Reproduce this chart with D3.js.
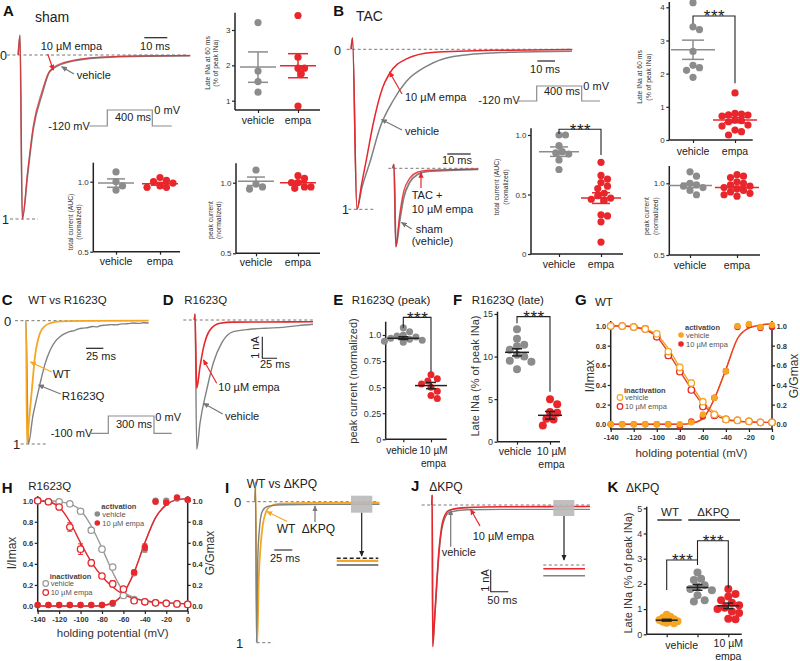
<!DOCTYPE html>
<html>
<head>
<meta charset="utf-8">
<script src="https://cdn.jsdelivr.net/npm/d3@7"></script>
<style>
  body { margin: 0; background: #fff; }
</style>
</head>
<body>
<script>
(function() {
  // ---------- dot plot data (A, B, E, F, K) ----------
  var abGroups = ['vehicle', 'empa'];
  var rqGroups = ['vehicle', '10 µM empa'];
  var kGroups = ['WT vehicle', 'ΔKPQ vehicle', 'ΔKPQ 10 µM empa'];

  var aLateTicks = [1, 2, 3];
  var aLateVehicle = [3.21, 1.84, 1.54, 1.24];
  var aLateEmpa = [3.41, 2.23, 1.92, 1.92, 1.76, 0.85];
  var aLateMean = [1.95, 1.99];
  var aLateSem = [0.43, 0.34];

  var normTicks = [0.5, 1.0];
  var aTotalVehicle = [1.07, 1.0, 0.97, 0.94];
  var aTotalEmpa = [1.03, 1.01, 1.0, 0.99, 0.97, 0.96, 0.96];
  var aTotalMean = [0.99, 0.985];
  var aTotalSem = [0.03, 0.01];

  var aPeakVehicle = [1.09, 0.99, 0.97, 0.955];
  var aPeakEmpa = [1.05, 1.03, 1.0, 1.0, 0.97, 0.97, 0.96];
  var aPeakMean = [1.01, 1.0];
  var aPeakSem = [0.03, 0.01];

  var bTotalTicks = [0, 0.5, 1.0];
  var bTotalVehicle = [1.0, 1.0, 0.91, 0.86, 0.85, 0.84, 0.79, 0.71];
  var bTotalEmpa = [0.77, 0.66, 0.63, 0.6, 0.57, 0.55, 0.51, 0.49, 0.47, 0.46, 0.45, 0.33, 0.32, 0.27, 0.1];
  var bTotalMean = [0.86, 0.47];
  var bTotalSem = [0.04, 0.045];

  var bLateTicks = [0, 1, 2, 3, 4];
  var bLateVehicle = [4.14, 3.41, 3.33, 2.67, 2.25, 2.18, 2.1, 1.89];
  var bLateEmpa = [1.42, 0.8, 0.78, 0.76, 0.75, 0.72, 0.6, 0.58, 0.55, 0.45, 0.42, 0.3, 0.25, 0.15];
  var bLateMean = [2.72, 0.6];
  var bLateSem = [0.29, 0.08];

  var bPeakVehicle = [1.08, 1.05, 1.0, 0.99, 0.98, 0.97, 0.95, 0.92];
  var bPeakEmpa = [1.06, 1.05, 1.04, 1.01, 1.0, 0.99, 0.98, 0.97, 0.96, 0.95, 0.94, 0.93, 0.92, 0.91];
  var bPeakMean = [0.985, 0.97];
  var bPeakSem = [0.015, 0.01];

  var eTicks = [0, 0.25, 0.5, 0.75, 1.0];
  var eTickLabels = ['0', '0.25', '0.5', '0.75', '1.0'];
  var eVehicle = [1.07, 1.03, 1.0, 0.99, 0.98, 0.97, 0.96, 0.95, 0.94, 0.93];
  var eEmpa = [0.62, 0.58, 0.56, 0.53, 0.5, 0.46, 0.42, 0.39];
  var eMean = [0.97, 0.515];
  var eSem = [0.013, 0.03];

  var fTicks = [0, 5, 10, 15];
  var fVehicle = [13.2, 12.1, 11.4, 11.2, 10.8, 10.2, 10.0, 9.5, 9.4, 8.5];
  var fEmpa = [5.0, 4.4, 3.5, 3.4, 2.7, 2.6, 1.9];
  var fMean = [10.5, 3.1];
  var fSem = [0.42, 0.45];

  var kTicks = [0, 1, 2, 3, 4, 5];
  var kWT = [0.78, 0.7, 0.66, 0.62, 0.6, 0.57, 0.55, 0.52, 0.5, 0.46, 0.44];
  var kDKPQ = [2.45, 2.2, 2.15, 1.95, 1.9, 1.8, 1.75, 1.55, 1.35, 1.3];
  var kDKPQEmpa = [1.8, 1.6, 1.5, 1.35, 1.25, 1.15, 1.05, 1.0, 0.9, 0.85, 0.62, 0.6];
  var kMean = [0.56, 1.86, 1.13];
  var kSem = [0.035, 0.11, 0.11];

  // ---------- current traces: [time (ms), current (normalized, or nA in D/J)] ----------
  var aTraceVehicle = [[-0.8, 0], [0, -0.12], [1.0, 1.0], [3.4, 0.72], [5.8, 0.45], [9.6, 0.24], [13, 0.1], [20, 0.047], [35, 0.016], [55, 0.007], [74, 0.005]];
  var aTraceEmpa = [[-0.8, 0], [0, -0.12], [1.0, 1.0], [3.4, 0.7], [5.8, 0.43], [9.6, 0.22], [13, 0.095], [20, 0.042], [35, 0.013], [55, 0.005], [74, 0.003]];
  var bTraceVehicle = [[-0.8, 0], [0, -0.07], [2.5, 1.0], [5.2, 0.87], [10, 0.7], [15.5, 0.49], [23, 0.32], [30.5, 0.2], [42, 0.105], [57, 0.045], [84, 0.02], [124, 0.012]];
  var bTraceEmpa = [[-0.8, 0], [0, -0.07], [2.5, 1.0], [5.2, 0.84], [8, 0.68], [11.6, 0.47], [17, 0.24], [21, 0.15], [30.5, 0.06], [45, 0.02], [80, 0.006], [124, 0.002]];
  var bInsetSham = [[-0.5, 0], [0, -0.05], [0.8, 1.0], [2.4, 0.68], [4.1, 0.38], [6.7, 0.18], [10, 0.08], [14.5, 0.04], [36, 0.012]];
  var bInsetEmpa = [[-0.5, 0], [0, -0.05], [0.8, 1.0], [2.4, 0.6], [4.1, 0.3], [6.7, 0.13], [10, 0.05], [14.5, 0.025], [36, 0.01]];
  var cTraceWT = [[-0.7, 0], [0, 0], [1.4, 1.0], [4.5, 0.8], [8.3, 0.57], [13, 0.29], [20.3, 0.1], [27, 0.045], [35, 0.02], [50, 0.006], [80, 0.002], [177, 0]];
  var cTraceR1623Q = [[-0.7, 0], [0, 0], [3.4, 1.0], [10, 0.77], [15, 0.64], [20.3, 0.51], [27.5, 0.35], [34.8, 0.24], [42, 0.17], [49, 0.13], [56, 0.105], [64, 0.087], [70, 0.08], [76, 0.066], [83, 0.06], [90, 0.055], [96, 0.047], [102, 0.05], [107, 0.041], [115, 0.036], [123, 0.032], [130, 0.034], [138, 0.026], [146, 0.025], [155, 0.019], [162, 0.022], [170, 0.017], [177, 0.019]];
  var dTraceVehicle = [[-1, 0], [0, -0.3], [2.9, 5.99], [8.5, 4.77], [19.8, 3.24], [31, 1.99], [45.3, 1.06], [65, 0.54], [93, 0.43], [120, 0.38], [149, 0.34], [175, 0.26], [200, 0.2]];
  var dTraceEmpa = [[-1, 0], [0, -0.25], [2.9, 3.16], [8.5, 2.16], [14.1, 1.31], [25.4, 0.46], [42.4, 0.15], [64.4, 0.1], [120, 0.09], [200, 0.08]];
  var iTraceDKPQ = [[-1, 0], [-0.3, -0.14], [1.1, 1.0], [2.8, 0.42], [5.6, 0.17], [8.3, 0.08], [12.5, 0.045], [19.4, 0.03], [40, 0.022], [100, 0.019], [172, 0.018]];
  var iTraceWT = [[-1, 0], [-0.3, -0.1], [2.2, 1.0], [4.2, 0.56], [6.9, 0.31], [9.7, 0.17], [13.9, 0.078], [19.4, 0.035], [33, 0.014], [80, 0.008], [172, 0.007]];
  var jTraceVehicle = [[-1.5, 0], [-0.3, -0.46], [1.2, 6.4], [5.7, 5.5], [12.5, 3.75], [19, 2.25], [26.7, 1.15], [36, 0.6], [50, 0.33], [98, 0.22], [200, 0.2], [448, 0.2]];
  var jTraceEmpa = [[-1.5, 0], [-0.3, -0.46], [1.2, 6.53], [5.7, 5.45], [12.5, 3.61], [19, 2.07], [26.7, 1.0], [36, 0.46], [50, 0.23], [98, 0.12], [200, 0.08], [448, 0.07]];
  var iLate = [0, 0.007, 0.018];   // zero, WT, ΔKPQ
  var jLate = [0, 0.07, 0.2];      // zero, empa, vehicle

  // ---------- voltage dependence (G, H) ----------
  var ivVolts = [-140, -130, -120, -110, -100, -90, -80, -70, -60, -50, -40, -30, -20, -10, 0];
  var ivTicksX = [-140, -120, -100, -80, -60, -40, -20, 0];
  var ivTicksY = [0, 0.2, 0.4, 0.6, 0.8, 1.0];

  var gInactVeh = [1.0, 1.0, 0.99, 0.97, 0.92, 0.74, 0.58, 0.42, 0.23, 0.1, 0.05, 0.04, 0.03, 0.02, 0.02];
  var gInactVehErr = [0, 0, 0, 0.01, 0.02, 0.03, 0.03, 0.03, 0.02, 0.01, 0, 0, 0, 0, 0];
  var gInactEmpa = [1.0, 1.0, 0.99, 0.97, 0.89, 0.7, 0.535, 0.35, 0.18, 0.09, 0.05, 0.04, 0.03, 0.02, 0.02];
  var gInactEmpaErr = [0, 0, 0, 0.01, 0.02, 0.03, 0.02, 0.02, 0.02, 0.01, 0, 0, 0, 0, 0];
  var gActVeh = [0, 0, 0, 0, 0, 0, 0, 0.02, 0.1, 0.27, 0.54, 1.0, 1.02, 0.99, 1.01];
  var gActEmpa = [0, 0, 0, 0, 0, 0, -0.02, 0.03, 0.08, 0.27, 0.54, 0.99, 1.01, 0.98, 0.99];
  var gActErr = [0, 0, 0, 0, 0, 0, 0, 0, 0.01, 0.02, 0.02, 0.01, 0, 0, 0];
  var gFitInactVeh = [1.0, 1.0, 0.99, 0.97, 0.91, 0.77, 0.58, 0.4, 0.23, 0.12, 0.06, 0.035, 0.025, 0.02, 0.02];
  var gFitInactEmpa = [1.0, 1.0, 0.99, 0.96, 0.89, 0.73, 0.54, 0.36, 0.2, 0.1, 0.05, 0.03, 0.025, 0.02, 0.02];
  var gFitAct = [0, 0, 0, 0, 0, 0, 0, 0.01, 0.06, 0.26, 0.56, 0.87, 0.98, 1.01, 1.02];

  var hInactVeh = [1.0, 0.99, 0.99, 0.97, 0.9, 0.72, 0.54, 0.37, 0.1, 0.06, 0.04, 0.03, 0.025, 0.02, 0.015];
  var hInactVehErr = [0, 0, 0, 0, 0.01, 0.02, 0.02, 0.02, 0.01, 0, 0, 0, 0, 0, 0];
  var hInactEmpa = [1.0, 0.99, 0.94, 0.75, 0.54, 0.41, 0.285, 0.21, 0.16, 0.05, 0.04, 0.03, 0.025, 0.02, 0.015];
  var hInactEmpaErr = [0, 0, 0.01, 0.04, 0.05, 0.03, 0.02, 0.03, 0.02, 0, 0, 0, 0, 0, 0];
  var hActVeh = [0.01, 0.01, 0.01, 0.01, 0.01, 0.01, 0.01, 0.02, 0.15, 0.31, 0.54, 1.0, 1.0, 1.02, 1.01];
  var hActEmpa = [0.01, 0.01, 0.01, 0.01, 0.01, 0.01, 0.01, 0.03, 0.16, 0.32, 0.56, 0.99, 0.98, 1.03, 1.01];
  var hActErr = [0, 0, 0, 0, 0, 0, 0, 0, 0.01, 0.02, 0.03, 0.01, 0.01, 0, 0];
  var hFitInactVeh = [1.0, 1.0, 0.99, 0.97, 0.91, 0.76, 0.55, 0.32, 0.14, 0.08, 0.05, 0.035, 0.03, 0.025, 0.02];
  var hFitInactEmpa = [1.0, 0.99, 0.94, 0.8, 0.6, 0.42, 0.28, 0.18, 0.11, 0.07, 0.05, 0.035, 0.03, 0.025, 0.02];
  var hFitAct = [0, 0, 0, 0, 0, 0, 0.005, 0.03, 0.12, 0.32, 0.6, 0.84, 0.96, 1.01, 1.02];

  // ---------- style ----------
  var FONT = '"Liberation Sans", Arial, Helvetica, sans-serif';
  var GRAY = '#8c8c8c', RED = '#e8262b', ORANGE = '#f5a623', DARK = '#222', TRACEGRAY = '#7f8282';

  var svg = d3.select('body').append('svg')
    .attr('width', 800).attr('height', 661)
    .attr('font-family', FONT);
  svg.append('rect').attr('width', 800).attr('height', 661).attr('fill', '#fff');

  var defs = svg.append('defs');
  [['red', RED], ['gray', '#777'], ['orange', ORANGE], ['black', DARK]].forEach(function(m) {
    defs.append('marker').attr('id', 'ah-' + m[0])
      .attr('viewBox', '0 0 8 8').attr('refX', 7).attr('refY', 4)
      .attr('markerWidth', 6).attr('markerHeight', 6)
      .attr('markerUnits', 'userSpaceOnUse').attr('orient', 'auto')
      .append('path').attr('d', 'M0,0.5L8,4L0,7.5z').attr('fill', m[1]);
  });

  // ---------- helpers ----------
  function txt(x, y, s, o) {
    o = o || {};
    var t = svg.append('text').attr('x', x).attr('y', y).text(s)
      .attr('font-size', o.size || 11)
      .attr('fill', o.fill || DARK)
      .attr('text-anchor', o.anchor || 'start');
    if (o.bold) t.attr('font-weight', 'bold');
    if (o.ls) t.attr('letter-spacing', o.ls);
    if (o.rotate) t.attr('transform', 'rotate(-90,' + x + ',' + y + ')');
    return t;
  }

  function seg(x1, y1, x2, y2, color, w, dash) {
    var l = svg.append('line').attr('x1', x1).attr('y1', y1).attr('x2', x2).attr('y2', y2)
      .attr('stroke', color || DARK).attr('stroke-width', w || 1);
    if (dash) l.attr('stroke-dasharray', dash);
    return l;
  }

  function arrow(x1, y1, x2, y2, name, color) {
    seg(x1, y1, x2, y2, color, 1.2).attr('marker-end', 'url(#ah-' + name + ')');
  }

  function poly(pts, color, w) {
    svg.append('path').attr('d', d3.line()(pts))
      .attr('fill', 'none').attr('stroke', color || GRAY).attr('stroke-width', w || 1.2);
  }

  function panelLabel(x, y, letter, title, tx, ty, size) {
    txt(x, y, letter, { size: 15, bold: true, fill: '#111' });
    txt(tx, ty, title, { size: size || 12, fill: '#222' });
  }

  // simple beeswarm: horizontal pixel offsets so dots do not overlap much
  function swarm(vals, y, r, sep) {
    var placed = [], d = (sep || 1.8) * r;
    return vals.map(function(v) {
      var cy = y(v), off = 0;
      for (var k = 0; k < 60; k++) {
        off = k === 0 ? 0 : (k % 2 ? 1 : -1) * Math.ceil(k / 2) * r * 0.9;
        var ok = placed.every(function(p) {
          var dx = p[0] - off, dy = p[1] - cy;
          return dx * dx + dy * dy >= d * d;
        });
        if (ok) break;
      }
      placed.push([off, cy]);
      return off;
    });
  }

  function stars(x, yTop) {
    txt(x + 0.5, yTop + 6.5, '***', { size: 17, anchor: 'middle', ls: 0.5, fill: '#222' });
  }

  function dotPlot(o) {
    var y = d3.scaleLinear().domain(o.vals).range(o.px);
    var x = d3.scalePoint().domain(o.cats).range(o.catPx);
    var g = svg.append('g');
    var ya = g.append('g').attr('transform', 'translate(' + o.left + ',0)')
      .call(d3.axisLeft(y).tickValues(o.ticks).tickSize(3)
        .tickFormat(function(d, i) { return o.tickLabels ? o.tickLabels[i] : d3.format(o.fmt || '')(d); }));
    ya.select('.domain').remove();
    ya.selectAll('line').attr('stroke', DARK).attr('stroke-width', 1.2);
    ya.selectAll('text').attr('font-size', o.tickFont).attr('font-family', FONT)
      .attr('fill', '#333').attr('x', -4.5);
    var xa = g.append('g').attr('transform', 'translate(0,' + o.bottom + ')')
      .call(d3.axisBottom(x).tickSize(3).tickFormat(''));
    xa.select('.domain').remove();
    xa.selectAll('line').attr('stroke', DARK).attr('stroke-width', 1.2);
    g.append('line').attr('x1', o.left).attr('x2', o.left).attr('y1', o.bottom).attr('y2', o.top)
      .attr('stroke', DARK).attr('stroke-width', 1.5);
    g.append('line').attr('x1', o.left).attr('x2', o.right).attr('y1', o.bottom).attr('y2', o.bottom)
      .attr('stroke', DARK).attr('stroke-width', 1.5);

    o.labels.forEach(function(lines, i) {
      if (!lines) return;
      var dx = o.labelDx ? o.labelDx[i] : 0;
      lines.forEach(function(s, j) {
        txt(x(o.cats[i]) + dx, o.labelY + j * (o.lead || 13), s, { size: o.labelFont, anchor: 'middle' });
      });
    });

    o.groups.forEach(function(gr, i) {
      var cx = x(o.cats[i]);
      var offs = swarm(gr.vals, y, o.r, gr.sep);
      g.append('g').selectAll('circle').data(gr.vals).enter().append('circle')
        .attr('cx', function(d, k) { return cx + offs[k]; })
        .attr('cy', function(d) { return y(d); })
        .attr('r', o.r).attr('fill', gr.color);
      var lc = o.lineColor || gr.color;
      var lw = 1.5;
      g.append('line').attr('x1', cx - o.meanW).attr('x2', cx + o.meanW)
        .attr('y1', y(gr.mean)).attr('y2', y(gr.mean)).attr('stroke', lc).attr('stroke-width', lw);
      g.append('line').attr('x1', cx).attr('x2', cx)
        .attr('y1', y(gr.mean - gr.sem)).attr('y2', y(gr.mean + gr.sem)).attr('stroke', lc).attr('stroke-width', lw);
      [gr.mean - gr.sem, gr.mean + gr.sem].forEach(function(v) {
        g.append('line').attr('x1', cx - o.capW).attr('x2', cx + o.capW)
          .attr('y1', y(v)).attr('y2', y(v)).attr('stroke', lc).attr('stroke-width', lw);
      });
    });

    (o.brackets || []).forEach(function(b) {
      var xa0 = x(o.cats[b.a]), xb0 = x(o.cats[b.b]), yt = y(b.top);
      g.append('path')
        .attr('d', 'M' + xa0 + ',' + y(b.ea) + 'V' + yt + 'H' + xb0 + 'V' + y(b.eb))
        .attr('fill', 'none').attr('stroke', DARK).attr('stroke-width', 1.1);
      stars((xa0 + xb0) / 2, yt);
    });

    o.ylab.forEach(function(s, j) {
      txt(o.ylabX[j], o.ylabY, s, { size: o.ylabFont, anchor: 'middle', rotate: true, fill: '#333' });
    });
    return { x: x, y: y };
  }

  function traceScales(x0, msPx, y0, unitPx) {
    return {
      x: d3.scaleLinear().domain([0, 1]).range([x0, x0 + msPx]),
      y: d3.scaleLinear().domain([0, 1]).range([y0, y0 + unitPx])
    };
  }

  function drawTrace(s, data, color, w, op) {
    svg.append('path').datum(data)
      .attr('d', d3.line()
        .x(function(d) { return s.x(d[0]); })
        .y(function(d) { return s.y(d[1]); })
        .curve(d3.curveMonotoneX))
      .attr('fill', 'none').attr('stroke', color).attr('stroke-width', w || 1.5)
      .attr('stroke-opacity', op || 1).attr('stroke-linejoin', 'round');
  }

  function dashed(x1, x2, y) {
    seg(x1, y, x2, y, '#777', 1, '3,2.5');
  }

  function ivPanel(o) {
    var x = d3.scaleLinear().domain([ivVolts[0], ivVolts[ivVolts.length - 1]]).range([o.left, o.right]);
    var y = d3.scaleLinear().domain([0, 1]).range([o.y0, o.y1]);
    var g = svg.append('g');
    var fmt = d3.format('.1f');
    var la = g.append('g').attr('transform', 'translate(' + o.left + ',0)')
      .call(d3.axisLeft(y).tickValues(ivTicksY).tickFormat(fmt).tickSize(3));
    var ra = g.append('g').attr('transform', 'translate(' + o.right + ',0)')
      .call(d3.axisRight(y).tickValues(ivTicksY).tickFormat(fmt).tickSize(3));
    var ba = g.append('g').attr('transform', 'translate(0,' + o.bottom + ')')
      .call(d3.axisBottom(x).tickValues(ivTicksX).tickFormat(function(d) { return String(d); }).tickSize(3));
    [la, ra, ba].forEach(function(a) {
      a.select('.domain').remove();
      a.selectAll('line').attr('stroke', DARK).attr('stroke-width', 1.2);
      a.selectAll('text').attr('font-size', 7.5).attr('font-weight', 'bold')
        .attr('font-family', FONT).attr('fill', '#333');
    });
    la.selectAll('text').attr('x', -4.5);
    ra.selectAll('text').attr('x', 4.5);
    g.append('path').attr('d', 'M' + o.left + ',' + o.top + 'V' + o.bottom + 'H' + o.right + 'V' + o.top)
      .attr('fill', 'none').attr('stroke', DARK).attr('stroke-width', 1.5);

    var line = d3.line()
      .x(function(d, i) { return x(ivVolts[i]); })
      .y(function(d) { return y(d); })
      .curve(d3.curveMonotoneX);
    o.fits.forEach(function(f) {
      g.append('path').datum(f.vals).attr('d', line)
        .attr('fill', 'none').attr('stroke', f.color).attr('stroke-width', 1.4);
    });
    o.points.forEach(function(p) {
      var pg = g.append('g');
      p.vals.forEach(function(v, i) {
        var e = p.err ? p.err[i] : 0;
        if (e > 0) {
          var cx = x(ivVolts[i]);
          pg.append('line').attr('x1', cx).attr('x2', cx).attr('y1', y(v - e)).attr('y2', y(v + e))
            .attr('stroke', p.color).attr('stroke-width', 1);
          [v - e, v + e].forEach(function(w) {
            pg.append('line').attr('x1', cx - 2.5).attr('x2', cx + 2.5).attr('y1', y(w)).attr('y2', y(w))
              .attr('stroke', p.color).attr('stroke-width', 1);
          });
        }
      });
      pg.selectAll('circle').data(p.vals).enter().append('circle')
        .attr('cx', function(d, i) { return x(ivVolts[i]); })
        .attr('cy', function(d) { return y(d); })
        .attr('r', 3.2)
        .attr('fill', p.open ? '#fff' : p.color)
        .attr('stroke', p.color).attr('stroke-width', p.open ? 1.3 : 0);
    });

    txt(o.ylX, o.ylY, 'I/Imax', { size: 12, anchor: 'middle', rotate: true, fill: '#333' });
    txt(o.yrX, o.ylY, 'G/Gmax', { size: 12, anchor: 'middle', rotate: true, fill: '#333' });
    txt((o.left + o.right) / 2, o.titleY, 'holding potential (mV)', { size: 11.5, anchor: 'middle', fill: '#333' });
  }

  function ivLegend(x, y, title, items) {
    txt(x + 4, y, title, { size: 7.5, bold: true, fill: '#444' });
    items.forEach(function(it, i) {
      var yy = y + 7.5 + i * 9;
      svg.append('circle').attr('cx', x).attr('cy', yy - 2.5).attr('r', 2.8)
        .attr('fill', it.open ? '#fff' : it.color).attr('stroke', it.color)
        .attr('stroke-width', it.open ? 1.2 : 0);
      txt(x + 5, yy, it.label, { size: 7.5, fill: '#555' });
    });
  }

  // ================= A =================
  panelLabel(3, 15.5, 'A', 'sham', 35, 21.5, 14);
  var sA = traceScales(20, 2.3, 55, 164);
  dashed(7, 188, 55);
  dashed(10, 38, 219);
  txt(0, 60, '0', { size: 12.5 });
  txt(2, 224, '1', { size: 12.5 });
  drawTrace(sA, aTraceVehicle, TRACEGRAY, 1.6);
  drawTrace(sA, aTraceEmpa, RED, 1.3, 0.75);
  seg(144.3, 37.7, 144.3 + sA.x(10) - sA.x(0), 37.7, DARK, 1.2);
  txt(155, 50, '10 ms', { size: 11, anchor: 'middle' });
  txt(40.7, 50, '10 µM empa', { size: 11 });
  arrow(47.7, 54, 53.3, 70, 'red', RED);
  txt(76.7, 78.5, 'vehicle', { size: 11 });
  arrow(74, 74, 61.7, 66.7, 'gray', '#777');
  txt(48.3, 129.5, '-120 mV', { size: 11 });
  poly([[89.3, 126], [107.3, 126], [107.3, 110], [152.3, 110], [152.3, 126], [171.7, 126]]);
  txt(115, 120.5, '400 ms', { size: 11 });
  txt(154.3, 114, '0 mV', { size: 11 });

  dotPlot({
    left: 235, right: 320, top: 12.7, bottom: 110,
    vals: [1, 3], px: [100.7, 30], ticks: aLateTicks, fmt: 'd', tickFont: 8,
    cats: abGroups, catPx: [258, 298],
    labels: [['vehicle'], ['empa']], labelY: 124, labelFont: 10.5,
    groups: [
      { vals: aLateVehicle, mean: aLateMean[0], sem: aLateSem[0], color: GRAY },
      { vals: aLateEmpa, mean: aLateMean[1], sem: aLateSem[1], color: RED }
    ],
    r: 3.6, meanW: 18, capW: 10,
    ylab: ['Late INa at 60 ms', '(% of  peak INa)'], ylabX: [209.5, 217.5], ylabY: 63, ylabFont: 6.8
  });

  dotPlot({
    left: 93.3, right: 180, top: 162.7, bottom: 251.7,
    vals: [0.5, 1.0], px: [251.7, 181.7], ticks: normTicks, fmt: '.1f', tickFont: 8,
    cats: abGroups, catPx: [116, 160],
    labels: [['vehicle'], ['empa']], labelY: 264.5, labelFont: 10.5,
    groups: [
      { vals: aTotalVehicle, mean: aTotalMean[0], sem: aTotalSem[0], color: GRAY },
      { vals: aTotalEmpa, mean: aTotalMean[1], sem: aTotalSem[1], color: RED }
    ],
    r: 3.6, meanW: 18, capW: 9,
    ylab: ['total current (AUC)', '(nomalized)'], ylabX: [72.5, 80.5], ylabY: 222, ylabFont: 6.8
  });

  dotPlot({
    left: 236, right: 320, top: 163.3, bottom: 253.3,
    vals: [0.5, 1.0], px: [253.3, 182.7], ticks: normTicks, fmt: '.1f', tickFont: 8,
    cats: abGroups, catPx: [256, 298],
    labels: [['vehicle'], ['empa']], labelY: 265.5, labelFont: 10.5,
    groups: [
      { vals: aPeakVehicle, mean: aPeakMean[0], sem: aPeakSem[0], color: GRAY },
      { vals: aPeakEmpa, mean: aPeakMean[1], sem: aPeakSem[1], color: RED }
    ],
    r: 3.6, meanW: 18, capW: 9,
    ylab: ['peak current', '(normalized)'], ylabX: [213, 221], ylabY: 220, ylabFont: 6.8
  });

  // ================= B =================
  panelLabel(333.3, 15.5, 'B', 'TAC', 356, 21, 14);
  var sB = traceScales(352.5, 1.77, 49.3, 160);
  dashed(346.7, 572.7, 49.3);
  dashed(348.3, 375, 209.3);
  txt(334, 54.5, '0', { size: 12.5 });
  txt(342, 214, '1', { size: 12.5 });
  drawTrace(sB, bTraceVehicle, TRACEGRAY, 1.5);
  drawTrace(sB, bTraceEmpa, RED, 1.5);
  txt(405, 101, '10 µM empa', { size: 11 });
  arrow(402, 94, 389.5, 72, 'red', RED);
  txt(405, 134.5, 'vehicle', { size: 11 });
  arrow(402, 130, 381.5, 119.5, 'gray', '#777');
  seg(537.3, 61, 537.3 + sB.x(10) - sB.x(0), 61, DARK, 1.2);
  txt(545, 73, '10 ms', { size: 11, anchor: 'middle' });
  txt(478.3, 104, '-120 mV', { size: 11 });
  poly([[517.3, 101], [536.7, 101], [536.7, 86], [581.7, 86], [581.7, 101], [600, 101]]);
  txt(544, 94.5, '400 ms', { size: 11 });
  txt(583.3, 89.5, '0 mV', { size: 11 });

  var sBi = traceScales(394, 2.34, 168.3, 78.4);
  dashed(388.3, 478.3, 168.3);
  drawTrace(sBi, bInsetSham, TRACEGRAY, 1.8);
  drawTrace(sBi, bInsetEmpa, RED, 1.4, 0.85);
  seg(447.3, 154, 447.3 + sBi.x(10) - sBi.x(0), 154, DARK, 1.2);
  txt(457, 163.5, '10 ms', { size: 11, anchor: 'middle' });
  arrow(421, 188, 421, 172.5, 'red', RED);
  txt(411.7, 199, 'TAC +', { size: 11 });
  txt(411.7, 212.7, '10 µM empa', { size: 11 });
  arrow(411.7, 229, 401.5, 222.5, 'gray', '#777');
  txt(415.7, 233, 'sham', { size: 11 });
  txt(411.7, 245, '(vehicle)', { size: 11 });

  dotPlot({
    left: 531, right: 623, top: 128.3, bottom: 254,
    vals: [0, 1.0], px: [254, 135], ticks: bTotalTicks, tickLabels: ['0', '0.5', '1.0'], tickFont: 8,
    cats: abGroups, catPx: [559, 601],
    labels: [['vehicle'], ['empa']], labelY: 267.5, labelFont: 10.5,
    groups: [
      { vals: bTotalVehicle, mean: bTotalMean[0], sem: bTotalSem[0], color: GRAY },
      { vals: bTotalEmpa, mean: bTotalMean[1], sem: bTotalSem[1], color: RED }
    ],
    r: 3.6, meanW: 20, capW: 9,
    brackets: [{ a: 0, b: 1, top: 1.048, ea: 1.008, eb: 0.832 }],
    ylab: ['total current (AUC)', '(nomalized)'], ylabX: [499, 507.5], ylabY: 187, ylabFont: 6.8
  });

  dotPlot({
    left: 669.3, right: 752.7, top: 2, bottom: 140,
    vals: [0, 4], px: [140, 7.3], ticks: bLateTicks, fmt: 'd', tickFont: 8,
    cats: abGroups, catPx: [693, 735],
    labels: [['vehicle'], ['empa']], labelY: 155, labelFont: 10.5,
    groups: [
      { vals: bLateVehicle, mean: bLateMean[0], sem: bLateSem[0], color: GRAY },
      { vals: bLateEmpa, mean: bLateMean[1], sem: bLateSem[1], color: RED }
    ],
    r: 3.6, meanW: 22, capW: 11,
    brackets: [{ a: 0, b: 1, top: 3.74, ea: 3.51, eb: 1.71 }],
    ylab: ['Late INa at 60 ms', '(% of  peak INa)'], ylabX: [641.5, 650.5], ylabY: 77, ylabFont: 6.8
  });

  dotPlot({
    left: 669.3, right: 760, top: 166, bottom: 255,
    vals: [0.5, 1.0], px: [255, 183.3], ticks: normTicks, fmt: '.1f', tickFont: 8,
    cats: abGroups, catPx: [690, 737],
    labels: [['vehicle'], ['empa']], labelY: 268.5, labelFont: 10.5,
    groups: [
      { vals: bPeakVehicle, mean: bPeakMean[0], sem: bPeakSem[0], color: GRAY },
      { vals: bPeakEmpa, mean: bPeakMean[1], sem: bPeakSem[1], color: RED }
    ],
    r: 3.6, meanW: 22, capW: 9,
    ylab: ['peak current', '(normalized)'], ylabX: [649, 658], ylabY: 216, ylabFont: 6.8
  });

  // ================= C =================
  panelLabel(1.7, 304.5, 'C', 'WT vs R1623Q', 28.3, 303.5, 11.5);
  var sC = traceScales(26, 0.693, 320.7, 123.3);
  dashed(15, 146.7, 320.7);
  dashed(20.7, 46.7, 444);
  txt(4, 325.5, '0', { size: 13 });
  txt(13, 448.5, '1', { size: 13 });
  drawTrace(sC, cTraceR1623Q, TRACEGRAY, 1.4);
  drawTrace(sC, cTraceWT, ORANGE, 1.8);
  seg(86, 348.3, 86 + sC.x(25) - sC.x(0), 348.3, DARK, 1.2);
  txt(86, 359.5, '25 ms', { size: 11 });
  txt(52.7, 377.5, 'WT', { size: 11.5 });
  arrow(51.7, 372, 30.5, 362, 'orange', ORANGE);
  txt(61.7, 400, 'R1623Q', { size: 11.5 });
  arrow(60.7, 394, 38.5, 385, 'gray', '#777');
  txt(50.7, 437, '-100 mV', { size: 11 });
  poly([[89.3, 433.3], [108.3, 433.3], [108.3, 416], [154, 416], [154, 433.3], [171.7, 433.3]]);
  txt(116, 427.5, '300 ms', { size: 11 });
  txt(155.3, 421, '0 mV', { size: 11 });

  // ================= D =================
  panelLabel(162.7, 304.5, 'D', 'R1623Q', 184.3, 303.5, 11.5);
  var sD = traceScales(195, 0.59, 320, 21.6);
  dashed(183.3, 315, 320);
  drawTrace(sD, dTraceVehicle, TRACEGRAY, 1.4);
  drawTrace(sD, dTraceEmpa, RED, 1.6);
  poly([[262.3, 336.7], [262.3, 336.7 + sD.y(1) - sD.y(0)], [262.3 + sD.x(25) - sD.x(0), 336.7 + sD.y(1) - sD.y(0)]], DARK, 1.1);
  txt(258.5, 347.5, '1 nA', { size: 11, anchor: 'middle', rotate: true });
  txt(260, 368, '25 ms', { size: 11 });
  txt(218.3, 391, '10 µM empa', { size: 11 });
  arrow(216.7, 383.3, 203.5, 360, 'red', RED);
  txt(225, 420, 'vehicle', { size: 11 });
  arrow(222.7, 414, 203.5, 403.3, 'gray', '#777');

  // ================= E =================
  panelLabel(333.3, 304.5, 'E', 'R1623Q (peak)', 351.7, 303.5, 11.5);
  dotPlot({
    left: 385.7, right: 446.7, top: 321.7, bottom: 439.3,
    vals: [0, 1.0], px: [439.3, 335], ticks: eTicks, tickLabels: eTickLabels, tickFont: 9,
    cats: rqGroups, catPx: [403.3, 431],
    labels: [['vehicle'], ['10 µM', 'empa']], labelDx: [-1.5, 2.5], labelY: 454, lead: 13, labelFont: 10,
    groups: [
      { vals: eVehicle, mean: eMean[0], sem: eSem[0], color: GRAY },
      { vals: eEmpa, mean: eMean[1], sem: eSem[1], color: RED }
    ],
    lineColor: DARK, r: 3.5, meanW: 16, capW: 5,
    brackets: [{ a: 0, b: 1, top: 1.169, ea: 1.07, eb: 0.648 }],
    ylab: ['peak current (normalized)'], ylabX: [357], ylabY: 381, ylabFont: 11
  });

  // ================= F =================
  panelLabel(453, 304.5, 'F', 'R1623Q (late)', 471.7, 303.5, 11.5);
  dotPlot({
    left: 497.5, right: 560, top: 311.7, bottom: 441.7,
    vals: [0, 15], px: [441.7, 314], ticks: fTicks, fmt: 'd', tickFont: 9,
    cats: rqGroups, catPx: [517, 550],
    labels: [['vehicle'], ['10 µM', 'empa']], labelDx: [-2, 1.5], labelY: 455, lead: 13, labelFont: 10.5,
    groups: [
      { vals: fVehicle, mean: fMean[0], sem: fSem[0], color: GRAY },
      { vals: fEmpa, mean: fMean[1], sem: fSem[1], color: RED }
    ],
    lineColor: DARK, r: 4, meanW: 12, capW: 5,
    brackets: [{ a: 0, b: 1, top: 14.69, ea: 13.9, eb: 5.87 }],
    ylab: ['Late INa (% of  peak INa)'], ylabX: [479], ylabY: 376, ylabFont: 11
  });

  // ================= G =================
  panelLabel(575, 304.5, 'G', 'WT', 595, 306, 11.5);
  ivPanel({
    left: 610.7, right: 772, y0: 424.3, y1: 326, top: 321, bottom: 429,
    ylX: 594, yrX: 798, ylY: 376, titleY: 457,
    fits: [
      { vals: gFitInactVeh, color: ORANGE },
      { vals: gFitInactEmpa, color: '#e8402a' },
      { vals: gFitAct, color: ORANGE },
      { vals: gFitAct, color: '#e8402a' }
    ],
    points: [
      { vals: gActEmpa, err: gActErr, color: RED },
      { vals: gActVeh, err: gActErr, color: ORANGE },
      { vals: gInactEmpa, err: gInactEmpaErr, color: RED, open: true },
      { vals: gInactVeh, err: gInactVehErr, color: ORANGE, open: true }
    ]
  });
  ivLegend(681, 330, 'activation', [{ label: 'vehicle', color: ORANGE }, { label: '10 µM empa', color: RED }]);
  ivLegend(620, 392.5, 'inactivation', [{ label: 'vehicle', color: ORANGE, open: true }, { label: '10 µM empa', color: RED, open: true }]);

  // ================= H =================
  panelLabel(1.7, 492.5, 'H', 'R1623Q', 28.3, 490, 11.5);
  ivPanel({
    left: 37.7, right: 187.7, y0: 606, y1: 500.7, top: 496, bottom: 611,
    ylX: 16, yrX: 214, ylY: 553, titleY: 637,
    fits: [
      { vals: hFitInactVeh, color: '#999' },
      { vals: hFitInactEmpa, color: RED },
      { vals: hFitAct, color: '#999' },
      { vals: hFitAct, color: RED }
    ],
    points: [
      { vals: hActVeh, err: hActErr, color: GRAY },
      { vals: hActEmpa, err: hActErr, color: RED },
      { vals: hInactVeh, err: hInactVehErr, color: '#999', open: true },
      { vals: hInactEmpa, err: hInactEmpaErr, color: RED, open: true }
    ]
  });
  ivLegend(97.3, 509, 'activation', [{ label: 'vehicle', color: GRAY }, { label: '10 µM empa', color: RED }]);
  ivLegend(45.7, 578.5, 'inactivation', [{ label: 'vehicle', color: '#999', open: true }, { label: '10 µM empa', color: RED, open: true }]);

  // ================= I =================
  panelLabel(225, 492.5, 'I', 'WT vs ΔKPQ', 246.7, 487.5, 12);
  var sI = traceScales(255.7, 0.72, 501.7, 141);
  dashed(246.7, 378.3, 501.7);
  dashed(256.7, 273.3, 642.7);
  txt(234, 506.5, '0', { size: 13 });
  txt(236, 647.5, '1', { size: 13 });
  drawTrace(sI, iTraceWT, ORANGE, 1.8);
  drawTrace(sI, iTraceDKPQ, TRACEGRAY, 1.4);
  svg.append('rect').attr('x', 351).attr('y', 495.7).attr('width', 21.3).attr('height', 17)
    .attr('fill', '#b9b9b9').attr('fill-opacity', 0.9);
  arrow(361.7, 512.7, 361.7, 556, 'black', DARK);
  var iInset = d3.scaleLinear().domain([iLate[0], iLate[2]]).range([558.3, 565]);
  seg(336.7, iInset(iLate[1]), 378.3, iInset(iLate[1]), ORANGE, 2.2);
  seg(336.7, iInset(iLate[2]), 378.3, iInset(iLate[2]), TRACEGRAY, 1.8);
  seg(336.7, iInset(iLate[0]), 378.3, iInset(iLate[0]), DARK, 1.4, '4,2.5');
  txt(276.7, 533, 'WT', { size: 12 });
  arrow(287, 521.5, 267, 511.5, 'orange', ORANGE);
  txt(301.7, 533, 'ΔKPQ', { size: 12 });
  arrow(315, 522, 315, 506, 'gray', '#777');
  seg(274.3, 550, 274.3 + sI.x(25) - sI.x(0), 550, DARK, 1.1);
  txt(270, 562, '25 ms', { size: 11 });

  // ================= J =================
  panelLabel(411, 491, 'J', 'ΔKPQ', 429.3, 490.7, 12);
  var sJ = traceScales(432.3, 0.352, 505, 21.7);
  dashed(421.7, 590, 505);
  drawTrace(sJ, jTraceVehicle, TRACEGRAY, 1.4);
  drawTrace(sJ, jTraceEmpa, RED, 1.6);
  svg.append('rect').attr('x', 553.3).attr('y', 500).attr('width', 21).attr('height', 16)
    .attr('fill', '#b9b9b9').attr('fill-opacity', 0.9);
  arrow(564, 516, 564, 560, 'black', DARK);
  var jInset = d3.scaleLinear().domain([jLate[0], jLate[2]]).range([565, 575.7]);
  seg(543.3, jInset(jLate[0]), 585, jInset(jLate[0]), '#777', 1, '3,2.5');
  seg(543.3, jInset(jLate[1]), 585, jInset(jLate[1]), RED, 1.6);
  seg(543.3, jInset(jLate[2]), 585, jInset(jLate[2]), TRACEGRAY, 1.4);
  txt(472.7, 540, '10 µM empa', { size: 11 });
  arrow(480, 526, 470.7, 509.5, 'red', RED);
  txt(441.7, 556, 'vehicle', { size: 11 });
  arrow(450.7, 546.7, 450.7, 510, 'gray', '#777');
  poly([[490.7, 570], [490.7, 570 + sJ.y(1) - sJ.y(0)], [490.7 + sJ.x(50) - sJ.x(0), 570 + sJ.y(1) - sJ.y(0)]], DARK, 1.1);
  txt(488.5, 580.5, '1 nA', { size: 11, anchor: 'middle', rotate: true });
  txt(487.3, 603.5, '50 ms', { size: 11 });

  // ================= K =================
  panelLabel(607.5, 492, 'K', 'ΔKPQ', 626, 491.5, 12);
  dotPlot({
    left: 646.7, right: 741.7, top: 506.7, bottom: 634.3,
    vals: [0, 5], px: [634.3, 508.3], ticks: kTicks, fmt: 'd', tickFont: 9,
    cats: kGroups, catPx: [666.7, 728.3],
    labels: [null, null, ['10 µM', 'empa']], labelY: 647, lead: 13, labelFont: 10.5,
    groups: [
      { vals: kWT, mean: kMean[0], sem: kSem[0], color: ORANGE, sep: 0.9 },
      { vals: kDKPQ, mean: kMean[1], sem: kSem[1], color: GRAY },
      { vals: kDKPQEmpa, mean: kMean[2], sem: kSem[2], color: RED }
    ],
    lineColor: DARK, r: 4, meanW: 11, capW: 5,
    brackets: [
      { a: 0, b: 1, top: 2.95, ea: 1.76, eb: 2.75 },
      { a: 1, b: 2, top: 3.71, ea: 2.95, eb: 1.83 }
    ],
    ylab: ['Late INa (% of  peak INa)'], ylabX: [632], ylabY: 573, ylabFont: 11
  });
  txt(681.7, 649, 'vehicle', { size: 10.5, anchor: 'middle' });
  txt(670, 516, 'WT', { size: 11.5, anchor: 'middle' });
  seg(657.3, 520, 681.7, 520, DARK, 1.4);
  txt(713.3, 516, 'ΔKPQ', { size: 11.5, anchor: 'middle' });
  seg(688.3, 520, 740, 520, DARK, 1.4);

}).call(this);
</script>
</body>
</html>
